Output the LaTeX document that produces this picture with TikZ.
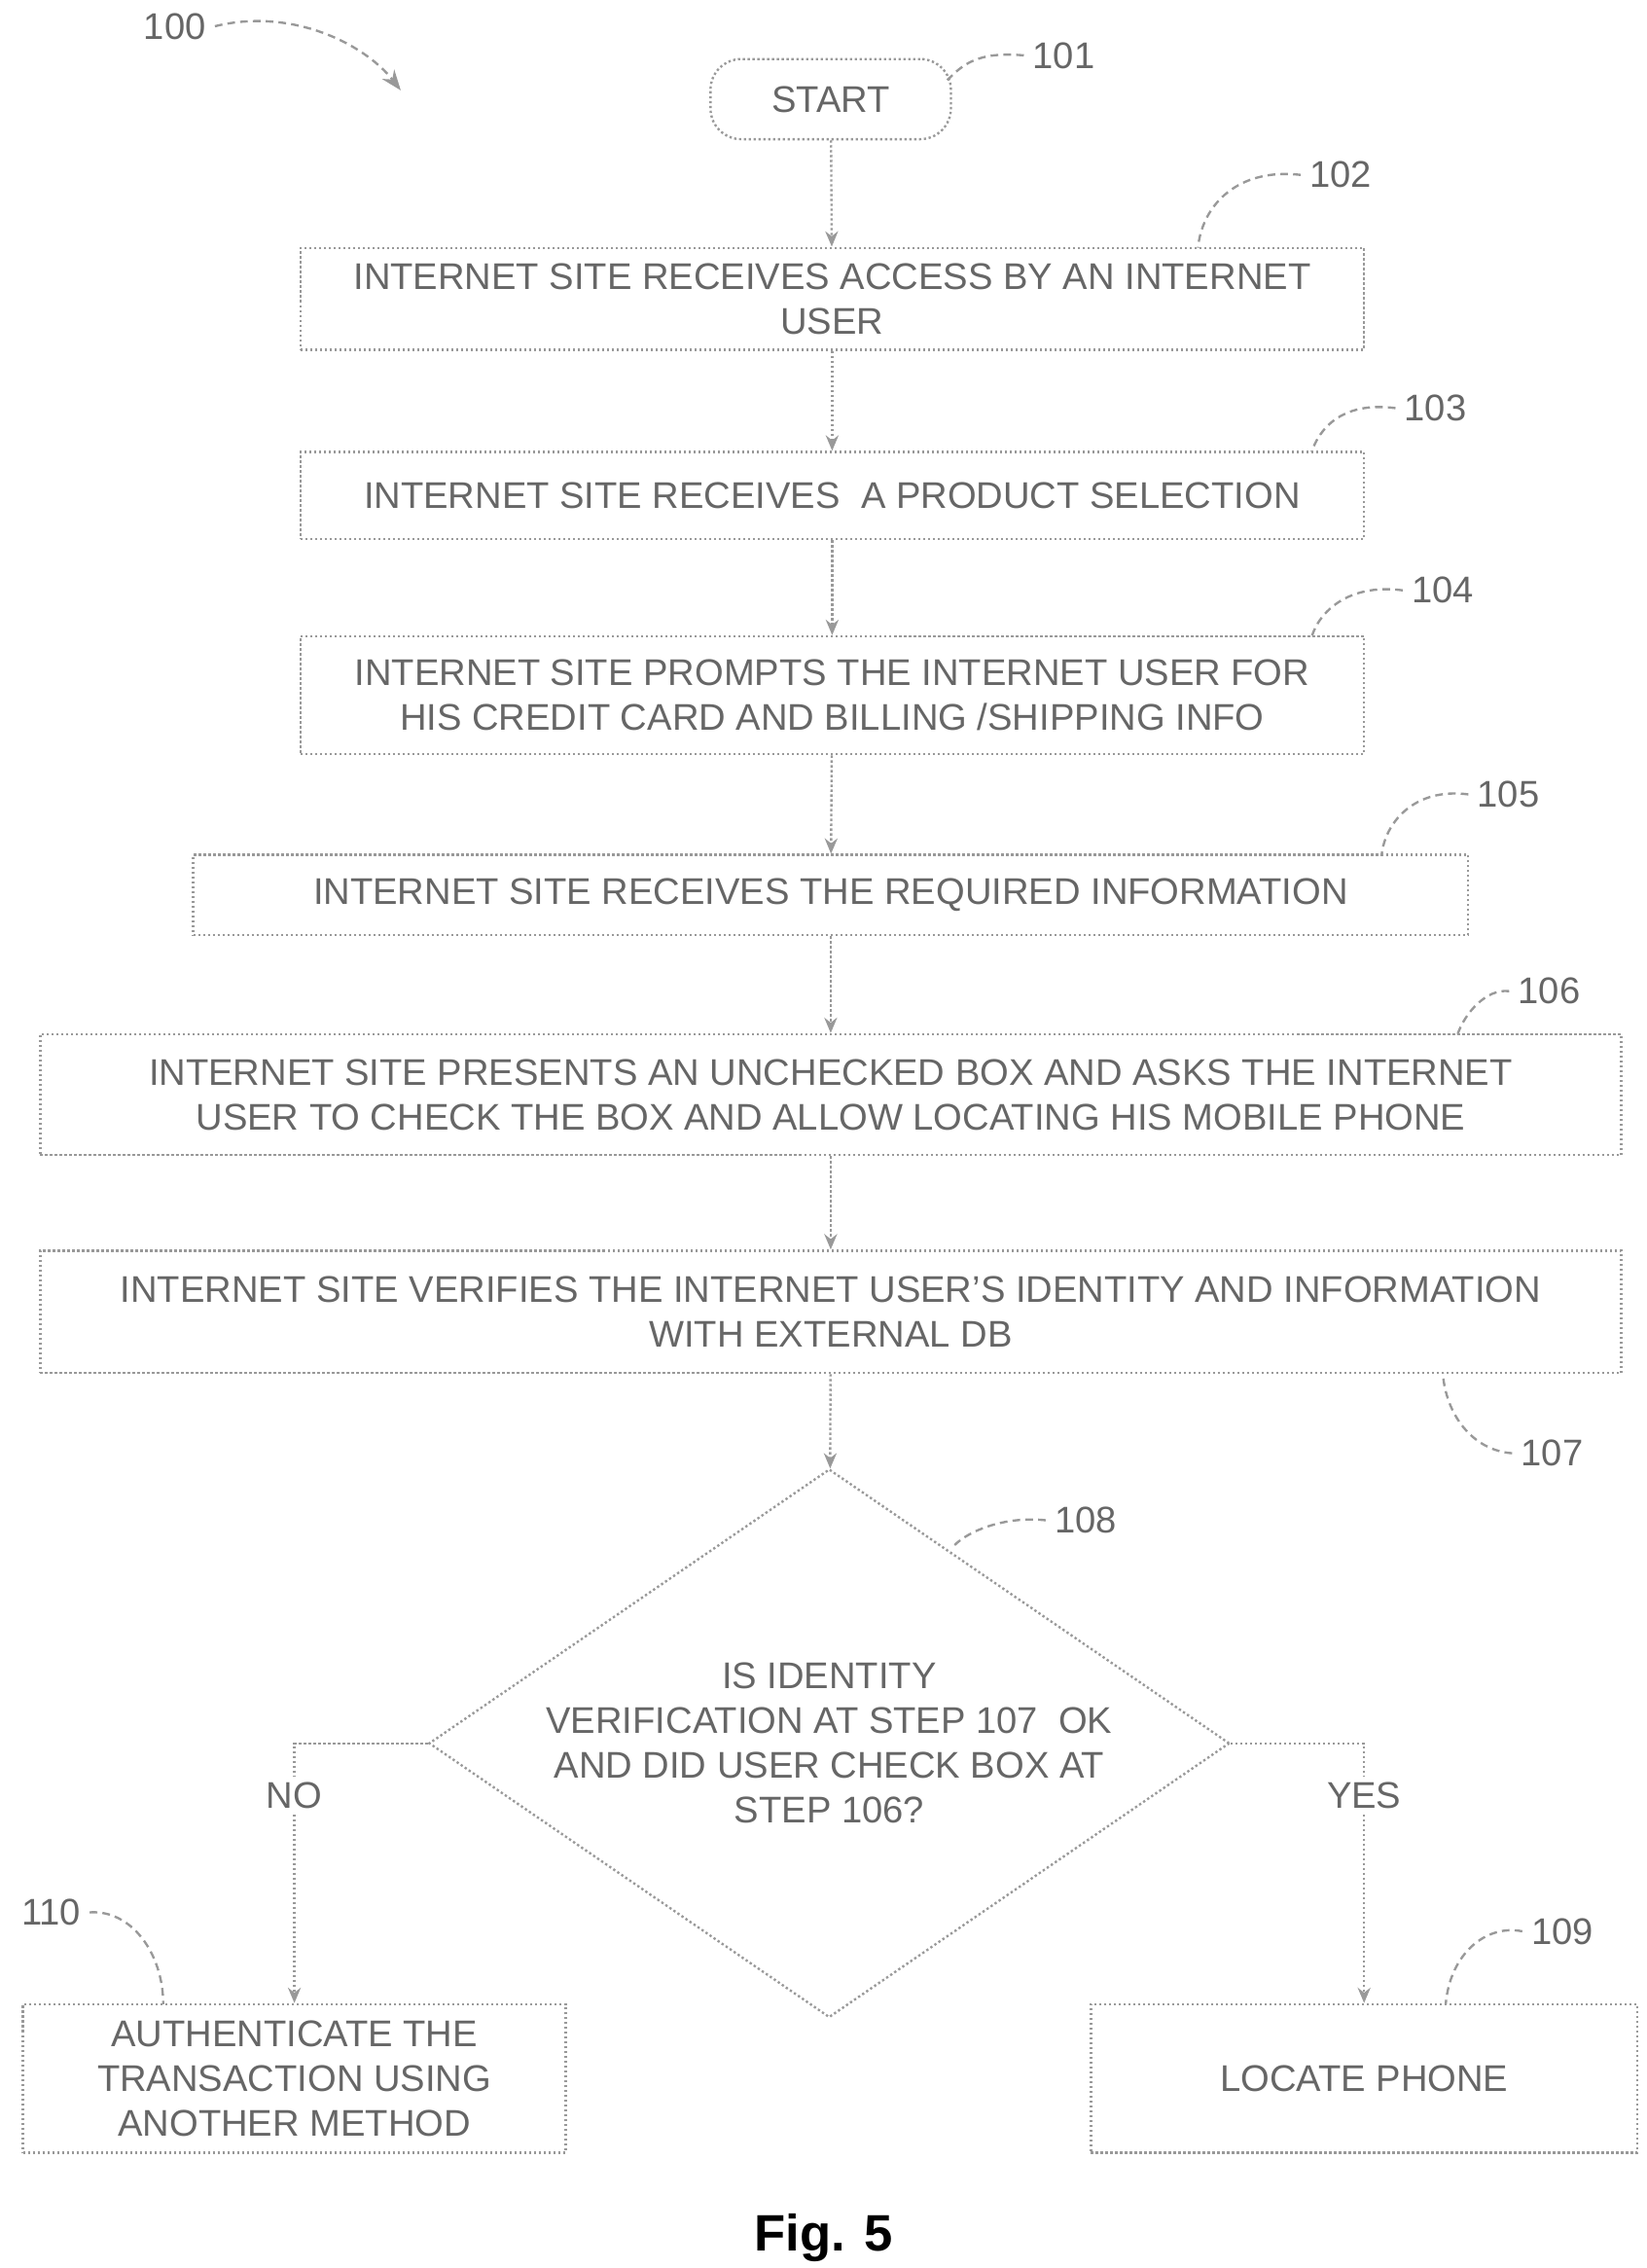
\documentclass[tikz,border=0pt]{standalone}
\usepackage{fontspec}
\setmainfont{Liberation Sans}
\usetikzlibrary{shapes.geometric,arrows.meta}
\tikzset{
  box/.style = {draw=gray!80, densely dotted, line width=0.9pt, align=center, inner sep=0pt,
    font=\fontsize{14.5}{17.5}\selectfont, text=gray!80!black},
  flow/.style = {draw=gray!80, densely dotted, line width=0.9pt, -{Stealth[length=6pt,width=5pt]}},
  lead/.style = {draw=gray!80, densely dashed, line width=0.9pt},
  num/.style = {font=\fontsize{14.5}{17}\selectfont, text=gray!80!black}
}
\begin{document}
\begin{tikzpicture}[x=0.02cm, y=-0.02cm]
\useasboundingbox (0,0) rectangle (1130,1556);
\node[box, rounded corners=12pt, minimum width=3.3cm, minimum height=1.1cm] (start) at (570,68) {START};
\node[box, minimum width=14.6cm, minimum height=1.4cm] (s102) at (571,205) {INTERNET SITE RECEIVES ACCESS BY AN INTERNET\\USER};
\node[box, minimum width=14.6cm, minimum height=1.2cm] (s103) at (571,340) {INTERNET SITE RECEIVES \ A PRODUCT SELECTION};
\node[box, minimum width=14.6cm, minimum height=1.62cm] (s104) at (571,477) {INTERNET SITE PROMPTS THE INTERNET USER FOR\\HIS CREDIT CARD AND BILLING /SHIPPING INFO};
\node[box, minimum width=17.5cm, minimum height=1.1cm] (s105) at (570,614) {INTERNET SITE RECEIVES THE REQUIRED INFORMATION};
\node[box, minimum width=21.7cm, minimum height=1.66cm] (s106) at (570,751) {INTERNET SITE PRESENTS AN UNCHECKED BOX AND ASKS THE INTERNET\\USER TO CHECK THE BOX AND ALLOW LOCATING HIS MOBILE PHONE};
\node[box, minimum width=21.7cm, minimum height=1.68cm] (s107) at (570,900) {INTERNET SITE VERIFIES THE INTERNET USER'S IDENTITY AND INFORMATION\\WITH EXTERNAL DB};
\node[box, diamond, aspect=1.46, minimum width=10.7cm, minimum height=7.3cm] (s108) at (569,1196) {IS IDENTITY\\VERIFICATION AT STEP 107 \ OK\\AND DID USER CHECK BOX AT\\STEP 106?};
\node[box, minimum width=7.45cm, minimum height=2.04cm] (s110) at (202,1426) {AUTHENTICATE THE\\TRANSACTION USING\\ANOTHER METHOD};
\node[box, minimum width=7.5cm, minimum height=2.04cm] (s109) at (936,1426) {LOCATE PHONE};
\node[font=\bfseries\fontsize{20}{24}\selectfont] (fig) at (565,1535) {Fig. 5};
% flow
\draw[flow] (start) -- (s102);
\draw[flow] (s102) -- (s103);
\draw[flow] (s103) -- (s104);
\draw[flow] (s104) -- (s105);
\draw[flow] (s105) -- (s106);
\draw[flow] (s106) -- (s107);
\draw[flow] (s107) -- (s108);
\draw[flow] (s108.west) -| node[num, pos=0.6, fill=white, inner sep=2pt] {NO} (s110.north);
\draw[flow] (s108.east) -| node[num, pos=0.6, fill=white, inner sep=2pt] {YES} (s109.north);
% reference numbers
\node[num] (n100) at (120,18) {100};
\coordinate (e100) at (275,62);
\draw[lead, -{Stealth[length=8pt]}] (n100.east) .. controls (200,5) and (250,30) .. (e100);
\node[num] (n101) at (730,38) {101};
\draw[lead] (n101.west) .. controls (670,35) and (660,45) .. (650,55);
\node[num] (n102) at (920,120) {102};
\draw[lead] (n102.west) .. controls (850,115) and (825,140) .. (822,170);
\node[num] (n103) at (985,280) {103};
\draw[lead] (n103.west) .. controls (920,275) and (905,295) .. (900,310);
\node[num] (n104) at (990,405) {104};
\draw[lead] (n104.west) .. controls (925,400) and (905,420) .. (900,437);
\node[num] (n105) at (1035,545) {105};
\draw[lead] (n105.west) .. controls (970,540) and (950,565) .. (948,587);
\node[num] (n106) at (1063,680) {106};
\draw[lead] (n106.west) .. controls (1020,678) and (1005,695) .. (1000,710);
\node[num] (n107) at (1065,997) {107};
\draw[lead] (n107.west) .. controls (1010,995) and (992,970) .. (990,942);
\node[num] (n108) at (745,1043) {108};
\draw[lead] (n108.west) .. controls (690,1040) and (665,1050) .. (655,1060);
\node[num] (n110) at (35,1312) {110};
\draw[lead] (n110.east) .. controls (90,1310) and (112,1340) .. (112,1375);
\node[num] (n109) at (1072,1325) {109};
\draw[lead] (n109.west) .. controls (1020,1320) and (995,1340) .. (992,1375);
\end{tikzpicture}
\end{document}
